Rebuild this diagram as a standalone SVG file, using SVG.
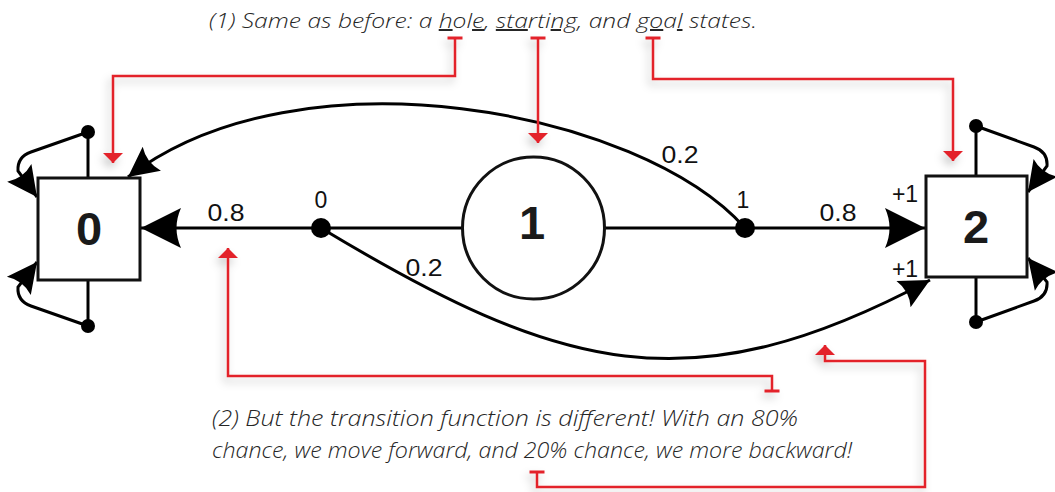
<svg xmlns="http://www.w3.org/2000/svg" width="1055" height="492" viewBox="0 0 1055 492">
<style>
.node{fill:#fff;stroke:#111;stroke-width:3}
.nlab{font-family:"Liberation Sans",Arial,sans-serif;font-weight:bold;font-size:47px;fill:#1a1a1a;text-anchor:middle}
.lab{font-family:"Liberation Sans",Arial,sans-serif;font-size:23px;fill:#111;text-anchor:middle}
.edge{fill:none;stroke:#000;stroke-width:3}
.dot{fill:#000}
.red{fill:none;stroke:#e3202a;stroke-width:2.5}
.note{font-family:"Open Sans","Lato",sans-serif;font-style:italic;font-weight:300;fill:#262626}
.u{text-decoration:underline}
</style>
<defs>
<marker id="big" markerUnits="userSpaceOnUse" markerWidth="46" markerHeight="46" viewBox="-43 -23 46 46" refX="0" refY="0" orient="auto">
<path d="M0,0 L-40,-20 Q-31,0 -40,20 Z" fill="#000"/>
</marker>
<marker id="small" markerUnits="userSpaceOnUse" markerWidth="36" markerHeight="36" viewBox="-33 -18 36 36" refX="0" refY="0" orient="auto">
<path d="M0,0 L-30,-15 Q-23,0 -30,15 Z" fill="#000"/>
</marker>
<marker id="rarrow" markerUnits="userSpaceOnUse" markerWidth="14" markerHeight="24" viewBox="-12 -12 14 24" refX="0" refY="0" orient="auto">
<path d="M0,0 L-10,-10 L-10,10 Z" fill="#e3202a"/>
</marker>
<marker id="rbar" markerUnits="userSpaceOnUse" markerWidth="6" markerHeight="20" viewBox="-3 -10 6 20" refX="0" refY="0" orient="auto">
<path d="M0,-7.5 V7.5" stroke="#e3202a" stroke-width="3"/>
</marker>
<filter id="sh" x="-20%" y="-20%" width="140%" height="140%">
<feDropShadow dx="-3" dy="5" stdDeviation="4" flood-color="#000" flood-opacity="0.22"/>
</filter>
</defs>

<g id="connectors">
<line class="edge" x1="321" y1="228" x2="141" y2="228" marker-end="url(#big)"/>
<line class="edge" x1="321" y1="228" x2="462" y2="228"/>
<line class="edge" x1="605" y1="228" x2="745" y2="228"/>
<line class="edge" x1="745" y1="228" x2="925" y2="228" marker-end="url(#big)"/>
<path class="edge" d="M745,228 C640,110 300,45 128,177" marker-end="url(#small)"/>
<path class="edge" d="M321,228 C560,372 690,408 930,280" marker-end="url(#small)"/>
<line class="edge" x1="88" y1="178" x2="88" y2="132"/>
<path class="edge" d="M88,132 L31,152 Q17,157 18,171 L37,197" marker-end="url(#small)"/>
<line class="edge" x1="88" y1="280" x2="88" y2="326"/>
<path class="edge" d="M88,326 L31,306 Q17,301 18,287 L37,262" marker-end="url(#small)"/>
<line class="edge" x1="976" y1="176" x2="976" y2="126"/>
<path class="edge" d="M976,126 L1034,147 Q1048,152 1047,166 L1028,192" marker-end="url(#small)"/>
<line class="edge" x1="976" y1="277" x2="976" y2="322"/>
<path class="edge" d="M976,322 L1034,301 Q1048,296 1047,282 L1028,258" marker-end="url(#small)"/>
<circle class="dot" cx="321" cy="228" r="10"/>
<circle class="dot" cx="745" cy="228" r="10"/>
<circle class="dot" cx="88" cy="132" r="7"/>
<circle class="dot" cx="88" cy="326" r="7"/>
<circle class="dot" cx="976" cy="126" r="7"/>
<circle class="dot" cx="976" cy="322" r="7"/>
<text class="lab" x="226" y="221" textLength="37" lengthAdjust="spacingAndGlyphs">0.8</text>
<text class="lab" x="321" y="208">0</text>
<text class="lab" x="680" y="163" textLength="37" lengthAdjust="spacingAndGlyphs">0.2</text>
<text class="lab" x="743" y="208">1</text>
<text class="lab" x="838" y="221" textLength="37" lengthAdjust="spacingAndGlyphs">0.8</text>
<text class="lab" x="424" y="276" textLength="37" lengthAdjust="spacingAndGlyphs">0.2</text>
<text class="lab" x="905" y="202">+1</text>
<text class="lab" x="905" y="277">+1</text>
</g>

<g id="node0">
<rect class="node" x="38" y="178" width="102" height="102"/>
<text class="nlab" x="89" y="245">0</text>
</g>
<g id="node1">
<circle class="node" cx="533.5" cy="228" r="71"/>
<text class="nlab" x="532" y="239">1</text>
</g>
<g id="node2">
<rect class="node" x="926" y="176" width="101" height="101"/>
<text class="nlab" x="976" y="243">2</text>
</g>

<g id="callouts" filter="url(#sh)">
<path class="red" d="M455,38 V76 H113 V163" marker-start="url(#rbar)" marker-end="url(#rarrow)"/>
<path class="red" d="M538,38 V143" marker-start="url(#rbar)" marker-end="url(#rarrow)"/>
<path class="red" d="M653,38 V79 H953 V161" marker-start="url(#rbar)" marker-end="url(#rarrow)"/>
<path class="red" d="M772,391 V376 H228 V248" marker-start="url(#rbar)" marker-end="url(#rarrow)"/>
<path class="red" d="M537,472 V487 H925 V361 H825 V345" marker-start="url(#rbar)" marker-end="url(#rarrow)"/>
</g>

<g id="note1">
<text class="note" x="209" y="28" font-size="20" textLength="548" lengthAdjust="spacingAndGlyphs">(1) Same as before: a <tspan class="u">h</tspan>ol<tspan class="u">e</tspan>, <tspan class="u">sta</tspan>rti<tspan class="u">ng</tspan>, and <tspan class="u">go</tspan>a<tspan class="u">l</tspan> states.</text>
</g>
<g id="note2">
<text class="note" x="212" y="426" font-size="22" textLength="586" lengthAdjust="spacingAndGlyphs">(2) But the transition function is different! With an 80%</text>
<text class="note" x="212" y="458" font-size="22" textLength="640" lengthAdjust="spacingAndGlyphs">chance, we move forward, and 20% chance, we more backward!</text>
</g>
</svg>
